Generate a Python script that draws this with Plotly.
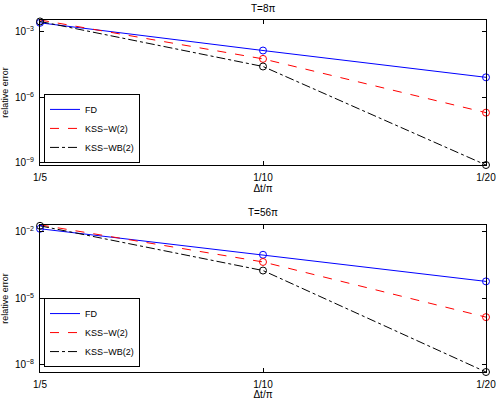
import numpy as np
import plotly.graph_objects as go
from plotly.subplots import make_subplots

dt = [0.2, 0.1, 0.05]
dt_labels = ["1/5", "1/10", "1/20"]

# T = 8pi
fd_8 = [2.6e-3, 1.4e-4, 8.3e-6]
ww_8 = [3.5e-3, 5.8e-5, 2.0e-7]
wb_8 = [3.0e-3, 2.6e-5, 8.0e-10]
# T = 56pi
fd_56 = [1.4e-2, 9.3e-4, 5.8e-5]
ww_56 = [2.1e-2, 4.4e-4, 1.4e-6]
wb_56 = [1.9e-2, 1.8e-4, 4.6e-9]

yt_8 = [1e-3, 1e-6, 1e-9]
yt_8_lab = ["10<sup>−3</sup>", "10<sup>−6</sup>", "10<sup>−9</sup>"]
yt_56 = [1e-2, 1e-5, 1e-8]
yt_56_lab = ["10<sup>−2</sup>", "10<sup>−5</sup>", "10<sup>−8</sup>"]

names = ["FD", "KSS−W(2)", "KSS−WB(2)"]
colors = ["#0000ff", "#ff0000", "#000000"]
dashes = ["solid", "dash", "dashdot"]

fig = make_subplots(rows=2, cols=1)
panels = [(fd_8, ww_8, wb_8), (fd_56, ww_56, wb_56)]
for r, series in enumerate(panels, start=1):
    lg = "legend" if r == 1 else "legend2"
    for i, ys in enumerate(series):
        fig.add_trace(go.Scatter(
            x=dt, y=ys, name=names[i], mode="lines",
            line=dict(color=colors[i], width=1, dash=dashes[i]),
            legend=lg,
        ), row=r, col=1)
    for i, ys in enumerate(series):
        fig.add_trace(go.Scatter(
            x=dt, y=ys, name=names[i], mode="markers", showlegend=False,
            marker=dict(symbol="circle-open", size=7, color=colors[i], line=dict(width=1)),
            cliponaxis=False, legend=lg,
        ), row=r, col=1)

font = dict(family="Liberation Sans, Arial, sans-serif", size=10, color="black")
small = dict(family="Liberation Sans, Arial, sans-serif", size=9, color="black")
axis_common = dict(showline=True, linecolor="black", linewidth=1, mirror="ticks",
                   ticks="inside", ticklen=4, tickcolor="black", showgrid=False,
                   zeroline=False, tickfont=font, automargin=False)

eps = 1e-6
xr = [np.log10(dt[0]) + eps, np.log10(dt[-1]) - eps]
for r in (1, 2):
    fig.update_xaxes(type="log", range=xr, tickvals=dt, ticktext=dt_labels,
                     ticklabelstandoff=3, ticklabeloverflow="allow",
                     title=dict(text="Δt/π", font=font, standoff=0), **axis_common, row=r, col=1)

def yrange(series):
    allv = np.concatenate([np.asarray(s) for s in series])
    return [np.log10(allv.min()), np.log10(allv.max())]

fig.update_yaxes(type="log", range=yrange(panels[0]), tickvals=yt_8, ticktext=yt_8_lab,
                 ticklabelstandoff=3,
                 title=dict(text="relative error", font=small, standoff=6), **axis_common, row=1, col=1)
fig.update_yaxes(type="log", range=yrange(panels[1]), tickvals=yt_56, ticktext=yt_56_lab,
                 ticklabelstandoff=3,
                 title=dict(text="relative error", font=small, standoff=6), **axis_common, row=2, col=1)

leg = dict(xanchor="left", yanchor="bottom", bordercolor="black", borderwidth=1,
           bgcolor="white", font=small, tracegroupgap=0, itemwidth=30)
fig.update_layout(
    width=496, height=400,
    margin=dict(l=40, r=10, t=20, b=28),
    plot_bgcolor="white", paper_bgcolor="white",
    font=font,
    yaxis=dict(domain=[0.588, 1.0]),
    yaxis2=dict(domain=[0.0, 0.418]),
    legend=dict(x=0.009, y=0.594, **leg),
    legend2=dict(x=0.009, y=0.014, **leg),
)
fig.add_annotation(text="T=8π", xref="x domain", yref="y domain", x=0.5, y=1.03,
                   yanchor="bottom", showarrow=False, font=font)
fig.add_annotation(text="T=56π", xref="x2 domain", yref="y2 domain", x=0.5, y=1.03,
                   yanchor="bottom", showarrow=False, font=font)

fig.write_html("out.html")
